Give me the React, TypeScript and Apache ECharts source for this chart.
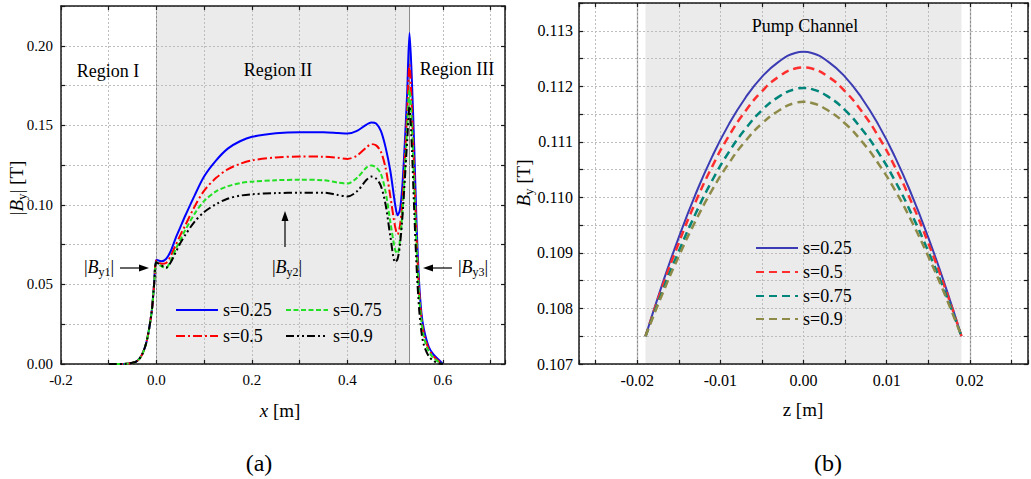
import React, { useEffect, useRef } from "react";
import * as echarts from "echarts";

const FONT = "Liberation Serif";

// ---------- Panel (a): |By| along x ----------
const xA = [
  -0.1, -0.07, -0.05, -0.04, -0.03, -0.02, -0.01, -0.005,
  0, 0.01, 0.02, 0.03, 0.04, 0.05, 0.06, 0.08,
  0.1, 0.125, 0.15, 0.175, 0.2, 0.25, 0.3, 0.35,
  0.38, 0.4, 0.42, 0.44, 0.45, 0.46, 0.47, 0.48,
  0.49, 0.5, 0.505, 0.51, 0.515, 0.52, 0.525, 0.53,
  0.535, 0.54, 0.545, 0.55, 0.555, 0.56, 0.57, 0.58,
  0.59, 0.6,
];
const blueA = [
  0, 0, 0.0008, 0.002, 0.006, 0.015, 0.033, 0.05,
  0.0655, 0.0645, 0.066, 0.071, 0.079, 0.086, 0.093, 0.106,
  0.118, 0.128, 0.1355, 0.14, 0.1428, 0.145, 0.1457, 0.1457,
  0.1452, 0.1448, 0.1465, 0.1505, 0.1518, 0.1512, 0.1465, 0.136,
  0.121, 0.1, 0.0935, 0.097, 0.112, 0.138, 0.17, 0.208,
  0.178, 0.135, 0.086, 0.052, 0.032, 0.022, 0.011, 0.006,
  0.003, 0,
];
const redA = [
  0, 0, 0.0008, 0.002, 0.006, 0.015, 0.033, 0.05,
  0.065, 0.063, 0.0635, 0.068, 0.0745, 0.081, 0.087, 0.099,
  0.109, 0.117, 0.1225, 0.1258, 0.128, 0.1298, 0.1304, 0.1303,
  0.1296, 0.1289, 0.131, 0.1362, 0.1382, 0.1374, 0.1335, 0.123,
  0.105, 0.086, 0.0815, 0.087, 0.102, 0.128, 0.158, 0.188,
  0.16, 0.12, 0.078, 0.047, 0.029, 0.019, 0.0095, 0.005,
  0.002, 0,
];
const greenA = [
  0, 0, 0.0008, 0.002, 0.006, 0.015, 0.033, 0.05,
  0.064, 0.0615, 0.0605, 0.065, 0.072, 0.078, 0.084, 0.0945,
  0.1025, 0.1085, 0.1118, 0.1137, 0.1146, 0.1155, 0.1158, 0.1155,
  0.114, 0.1134, 0.117, 0.1235, 0.1248, 0.1236, 0.1195, 0.108,
  0.089, 0.0715, 0.0695, 0.078, 0.095, 0.12, 0.148, 0.172,
  0.15, 0.11, 0.072, 0.043, 0.027, 0.017, 0.008, 0.004,
  0.0015, 0,
];
const blackA = [
  0, 0, 0.0008, 0.002, 0.006, 0.015, 0.033, 0.05,
  0.064, 0.062, 0.0605, 0.064, 0.07, 0.076, 0.081, 0.0895,
  0.0955, 0.1005, 0.104, 0.1058, 0.1067, 0.1074, 0.1077, 0.1077,
  0.1062, 0.1053, 0.1085, 0.1158, 0.1178, 0.1165, 0.112, 0.1,
  0.08, 0.064, 0.066, 0.075, 0.092, 0.115, 0.14, 0.162,
  0.135, 0.095, 0.06, 0.035, 0.02, 0.012, 0.005, 0.002,
  0.0005, 0,
];
const namesA = ["s=0.25", "s=0.5", "s=0.75", "s=0.9"];
const regionII = [0, 0.53];

// ---------- Panel (b): By across the pump channel ----------
const xB = [
  -0.019, -0.017, -0.015, -0.013, -0.011, -0.009, -0.007, -0.005, -0.003, -0.001,
  0,
  0.001, 0.003, 0.005, 0.007, 0.009, 0.011, 0.013, 0.015, 0.017, 0.019,
];
const blueB = [
  0.1075, 0.10843, 0.10928, 0.11005, 0.11073, 0.11131, 0.11179, 0.11217, 0.11244, 0.1126,
  0.11262,
  0.1126, 0.11244, 0.11217, 0.11179, 0.11131, 0.11073, 0.11005, 0.10928, 0.10843, 0.1075,
];
const redB = [
  0.1075, 0.10838, 0.10918, 0.10991, 0.11055, 0.1111, 0.11155, 0.11191, 0.11217, 0.11232,
  0.11234,
  0.11232, 0.11217, 0.11191, 0.11155, 0.1111, 0.11055, 0.10991, 0.10918, 0.10838, 0.1075,
];
const tealB = [
  0.1075, 0.1083, 0.10903, 0.1097, 0.1103, 0.11081, 0.11123, 0.11157, 0.11181, 0.11195,
  0.11197,
  0.11195, 0.11181, 0.11157, 0.11123, 0.11081, 0.1103, 0.1097, 0.10903, 0.1083, 0.1075,
];
const oliveB = [
  0.1075, 0.10825, 0.10894, 0.10957, 0.11013, 0.11061, 0.11101, 0.11133, 0.11156, 0.1117,
  0.11172,
  0.1117, 0.11156, 0.11133, 0.11101, 0.11061, 0.11013, 0.10957, 0.10894, 0.10825, 0.1075,
];
const namesB = ["s=0.25", "s=0.5", "s=0.75", "s=0.9"];
const pumpChannel = [-0.019, 0.019];

const AX = "#1a1a1a";

function richFor(size: number) {
  return {
    n: { fontSize: size, fontFamily: FONT, fill: "#000" },
    i: { fontStyle: "italic", fontSize: size, fontFamily: FONT, fill: "#000" },
    s: {
      fontSize: Math.round(size * 0.66),
      fontFamily: FONT,
      fill: "#000",
      padding: [Math.round(size * 0.55), 0, 0, 0],
    },
  };
}

function txt(x: number, y: number, text: string, size: number, rotation = 0) {
  return {
    type: "text",
    x,
    y,
    rotation,
    z: 100,
    silent: true,
    style: {
      text,
      fontFamily: FONT,
      fontSize: size,
      fill: "#000",
      align: "center",
      verticalAlign: "middle",
      rich: richFor(size),
    },
  };
}

function arrowLine(x1: number, y1: number, x2: number, y2: number) {
  return {
    type: "line",
    z: 100,
    silent: true,
    shape: { x1, y1, x2, y2 },
    style: { stroke: "#000", lineWidth: 1.2 },
  };
}

function arrowHead(points: number[][]) {
  return {
    type: "polygon",
    z: 100,
    silent: true,
    shape: { points },
    style: { fill: "#000" },
  };
}

function mkAxis(grid: number, pos: string, main: boolean, extra: any) {
  return {
    type: "value",
    gridIndex: grid,
    position: pos,
    z: 2,
    axisLine: { show: true, onZero: false, lineStyle: { color: AX, width: 1.5 } },
    axisTick: { show: true, inside: true, length: 4, lineStyle: { color: AX, width: 1.2 } },
    axisLabel: { show: false },
    splitLine: main
      ? { show: true, lineStyle: { color: "#bdbdbd", type: [2, 2], width: 1 } }
      : { show: false },
    ...extra,
  };
}

export default function App() {
  const ref = useRef<HTMLDivElement>(null);

  useEffect(() => {
    document.body.style.margin = "0";
    const chart = echarts.init(ref.current!, null, { renderer: "svg" });

    const fmtXA = (v: number) =>
      Math.abs(Math.round(v * 10)) % 2 === 0 && Math.abs(v * 10 - Math.round(v * 10)) < 1e-6
        ? v.toFixed(1)
        : "";
    const fmtYA = (v: number) =>
      Math.round(v * 1000) % 50 === 0 ? v.toFixed(2) : "";
    const fmtXB = (v: number) => {
      const k = Math.round(v * 1000);
      if (Math.abs(v * 1000 - k) > 1e-6) return "";
      return k % 10 === 0 ? (k === 0 ? "0.00" : v.toFixed(2)) : "";
    };
    const fmtYB = (v: number) =>
      Math.round(v * 10000) % 10 === 0 ? v.toFixed(3) : "";

    const xAxisA = { min: -0.2, max: 0.73, interval: 0.1 };
    const yAxisA = { min: 0, max: 0.225, interval: 0.025 };
    const xAxisB = { min: -0.027, max: 0.027, splitNumber: 10 };
    const yAxisB = { min: 0.107, max: 0.1135, interval: 0.0005 };

    const stylesA = [
      { color: "#0000ff", type: "solid" },
      { color: "#ff0000", type: [9, 3, 2, 3] },
      { color: "#22e022", type: [5, 2.5] },
      { color: "#000000", type: [8, 3, 2, 3, 2, 3] },
    ];
    const valsA = [blueA, redA, greenA, blackA];
    const stylesB = [
      { color: "#3b3bb3", type: "solid", width: 2 },
      { color: "#ff2e2e", type: [8, 5], width: 2.5 },
      { color: "#00857a", type: [8, 5], width: 2.5 },
      { color: "#8e8a48", type: [8, 5], width: 2.5 },
    ];
    const valsB = [blueB, redB, tealB, oliveB];

    const seriesA = namesA.map((n, i) => ({
      name: "a" + n,
      type: "line",
      xAxisIndex: 0,
      yAxisIndex: 0,
      z: 3,
      symbol: "none",
      smooth: 0.3,
      data: xA.map((x, j) => [x, valsA[i][j]]),
      lineStyle: { color: stylesA[i].color, width: 2, type: stylesA[i].type },
      itemStyle: { color: stylesA[i].color },
      ...(i === 0
        ? {
            markArea: {
              silent: true,
              z: 1,
              itemStyle: { color: "#ebebeb" },
              data: [[{ xAxis: regionII[0] }, { xAxis: regionII[1] }]],
            },
            markLine: {
              silent: true,
              z: 1,
              symbol: ["none", "none"],
              label: { show: false },
              lineStyle: { color: "#8c8c8c", width: 1, type: "solid" },
              data: regionII.map((v) => ({ xAxis: v })),
            },
          }
        : {}),
    }));

    const seriesB = namesB.map((n, i) => ({
      name: "b" + n,
      type: "line",
      xAxisIndex: 2,
      yAxisIndex: 2,
      z: 3,
      symbol: "none",
      smooth: 0.5,
      data: xB.map((x, j) => [x, valsB[i][j]]),
      lineStyle: { color: stylesB[i].color, width: stylesB[i].width, type: stylesB[i].type },
      itemStyle: { color: stylesB[i].color },
      ...(i === 0
        ? {
            markArea: {
              silent: true,
              z: 1,
              itemStyle: { color: "#ebebeb" },
              data: [[{ xAxis: pumpChannel[0] }, { xAxis: pumpChannel[1] }]],
            },
            markLine: {
              silent: true,
              z: 1,
              symbol: ["none", "none"],
              label: { show: false },
              lineStyle: { color: "#8c8c8c", width: 1.2, type: "solid" },
              data: pumpChannel.map((v) => ({ xAxis: v })),
            },
          }
        : {}),
    }));

    const legendText = { color: "#000", fontFamily: FONT, fontSize: 18 };
    const mkLegend = (name: string, left: number, top: number) => ({
      data: [name],
      left,
      top,
      padding: 0,
      itemWidth: 42,
      itemHeight: 14,
      itemGap: 5,
      selectedMode: false,
      itemStyle: { opacity: 0 },
      formatter: (nm: string) => nm.slice(1),
      textStyle: legendText,
    });

    const lab = (size: number, margin: number, formatter: any) => ({
      show: true,
      color: "#000",
      fontFamily: FONT,
      fontSize: size,
      margin,
      formatter,
    });

    const option: any = {
      animation: false,
      backgroundColor: "#ffffff",
      textStyle: { fontFamily: FONT },
      grid: [
        { left: 61, top: 6, width: 444, height: 358 },
        { left: 579, top: 3, width: 450, height: 361 },
      ],
      xAxis: [
        mkAxis(0, "bottom", true, { ...xAxisA, axisLabel: lab(15, 8, fmtXA) }),
        mkAxis(0, "top", false, { ...xAxisA }),
        mkAxis(1, "bottom", true, { ...xAxisB, axisLabel: lab(16, 8, fmtXB) }),
        mkAxis(1, "top", false, { ...xAxisB }),
      ],
      yAxis: [
        mkAxis(0, "left", true, { ...yAxisA, axisLabel: lab(15, 8, fmtYA) }),
        mkAxis(0, "right", false, { ...yAxisA }),
        mkAxis(1, "left", true, { ...yAxisB, axisLabel: lab(16, 6, fmtYB) }),
        mkAxis(1, "right", false, { ...yAxisB }),
      ],
      legend: [
        mkLegend("as=0.25", 175, 301),
        mkLegend("as=0.75", 285, 301),
        mkLegend("as=0.5", 175, 327),
        mkLegend("as=0.9", 285, 327),
        mkLegend("bs=0.25", 755, 239),
        mkLegend("bs=0.5", 755, 263),
        mkLegend("bs=0.75", 755, 287),
        mkLegend("bs=0.9", 755, 310),
      ],
      series: [...seriesA, ...seriesB],
      graphic: [
        txt(16, 188, "{n||}{i|B}{s|y}{n|| [T]}", 19, Math.PI / 2),
        txt(523, 183, "{i|B}{s|y}{n| [T]}", 19, Math.PI / 2),
        txt(280, 410, "{i|x}{n| [m]}", 19),
        txt(803, 409, "z [m]", 19),
        txt(259, 463, "(a)", 24),
        txt(828, 463, "(b)", 24),
        txt(108, 71, "Region I", 18),
        txt(278, 70, "Region II", 18),
        txt(457, 69, "Region III", 18),
        txt(805, 26, "Pump Channel", 18),
        txt(99, 267, "{n||}{i|B}{s|y1}{n||}", 18),
        txt(287, 267, "{n||}{i|B}{s|y2}{n||}", 18),
        txt(473, 267, "{n||}{i|B}{s|y3}{n||}", 18),
        arrowLine(120, 268, 141, 268),
        arrowHead([[149, 268], [139, 264.5], [139, 271.5]]),
        arrowLine(285, 247, 285, 219),
        arrowHead([[285, 211], [281.5, 221], [288.5, 221]]),
        arrowLine(452, 268, 431, 268),
        arrowHead([[423, 268], [433, 264.5], [433, 271.5]]),
      ],
    };

    chart.setOption(option);
    return () => chart.dispose();
  }, []);

  return (
    <div
      ref={ref}
      style={{ position: "fixed", left: 0, top: 0, width: 1031, height: 479, background: "#fff" }}
    />
  );
}
